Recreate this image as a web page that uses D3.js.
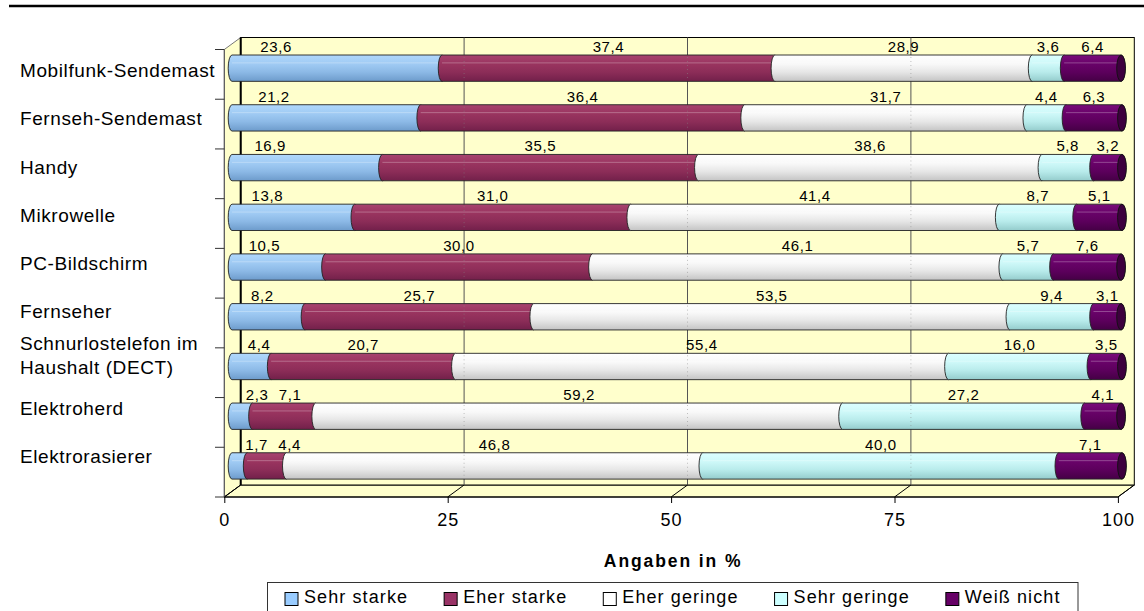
<!DOCTYPE html>
<html>
<head>
<meta charset="utf-8">
<script src="https://cdn.jsdelivr.net/npm/d3@7"></script>
<style>
  html, body { margin: 0; padding: 0; background: #fff; }
  svg { display: block; font-family: "Liberation Sans", Arial, sans-serif; }
</style>
</head>
<body>
<svg id="chart" width="1144" height="611"></svg>
<script>
// ---------- DATA ----------
const categories = [
  "Mobilfunk-Sendemast",
  "Fernseh-Sendemast",
  "Handy",
  "Mikrowelle",
  "PC-Bildschirm",
  "Fernseher",
  "Schnurlostelefon im Haushalt (DECT)",
  "Elektroherd",
  "Elektrorasierer"
];
const seriesNames = ["Sehr starke", "Eher starke", "Eher geringe", "Sehr geringe", "Weiß nicht"];
const sehrStarke  = [23.6, 21.2, 16.9, 13.8, 10.5,  8.2,  4.4,  2.3,  1.7];
const eherStarke  = [37.4, 36.4, 35.5, 31.0, 30.0, 25.7, 20.7,  7.1,  4.4];
const eherGeringe = [28.9, 31.7, 38.6, 41.4, 46.1, 53.5, 55.4, 59.2, 46.8];
const sehrGeringe = [ 3.6,  4.4,  5.8,  8.7,  5.7,  9.4, 16.0, 27.2, 40.0];
const weissNicht  = [ 6.4,  6.3,  3.2,  5.1,  7.6,  3.1,  3.5,  4.1,  7.1];
const xTicks = [0, 25, 50, 75, 100];
const xTitle = "Angaben in %";

// ---------- STYLE ----------
const seriesColors = ["#99CCFF", "#993366", "#FFFFFF", "#CCFFFF", "#660066"];
const gradStops = [
  ["#b0d8fc", "#9fcaf3", "#8cb9e6", "#6d9bcb"],
  ["#a8436f", "#99345f", "#8c2d58", "#72204a"],
  ["#ffffff", "#f8f8f8", "#e6e6e6", "#c4c4c4"],
  ["#dcffff", "#cdf8f8", "#b8ebeb", "#94cccc"],
  ["#7a0c7a", "#680268", "#5c005c", "#450045"]
];
const capColors = ["#6f9dcc", "#7a2550", "#bdbdbd", "#8fc6c6", "#3d003d"];

const svg = d3.select("#chart");
const defs = svg.append("defs");
gradStops.forEach((s, i) => {
  const g = defs.append("linearGradient").attr("id", "g" + i)
    .attr("x1", 0).attr("y1", 0).attr("x2", 0).attr("y2", 1);
  [[0, s[0]], [0.35, s[1]], [0.65, s[2]], [1, s[3]]].forEach(([o, c]) =>
    g.append("stop").attr("offset", o).attr("stop-color", c));
});

// ---------- GEOMETRY ----------
const depthX = 16.4, depthY = 12;
const frontX = d3.scaleLinear().domain([0, 100]).range([224.3, 1117.9]);
const backX = v => frontX(v) + depthX;
const frontTop = 49.5, frontBottom = 497;
const backTop = frontTop - depthY, backBottom = frontBottom - depthY;
const barX = d3.scaleLinear().domain([0, 100]).range([232, 1122]);
const tickBand = d3.scaleBand().domain(categories).range([frontTop, frontBottom]);
const barY = d3.scaleBand().domain(categories).range([55, 55 + 49.72 * 8.53]).paddingInner(0.47).paddingOuter(0);
const labelY = d3.scalePoint().domain(categories).range([77, 463]);

// top rule
svg.append("line").attr("x1", 9).attr("x2", 1144).attr("y1", 6).attr("y2", 6)
  .attr("stroke", "#000").attr("stroke-width", 2.5);

// walls
const wallFill = "#FFFFCC";
svg.append("polygon")
  .attr("points", [[frontX(0), frontTop], [backX(0), backTop], [backX(0), backBottom], [frontX(0), frontBottom]].join(" "))
  .attr("fill", wallFill).attr("stroke", "#777").attr("stroke-width", 1);
svg.append("polygon")
  .attr("points", [[frontX(0), frontBottom], [backX(0), backBottom], [backX(100), backBottom], [frontX(100), frontBottom]].join(" "))
  .attr("fill", wallFill).attr("stroke", "#000").attr("stroke-width", 1);
svg.append("rect").attr("x", backX(0)).attr("y", backTop)
  .attr("width", backX(100) - backX(0)).attr("height", backBottom - backTop)
  .attr("fill", wallFill).attr("stroke", "#000").attr("stroke-width", 1);

// gridlines on back wall and floor
xTicks.forEach(v => {
  if (v > 0 && v < 100) {
    svg.append("line").attr("x1", backX(v)).attr("x2", backX(v)).attr("y1", backTop).attr("y2", backBottom)
      .attr("stroke", "#555").attr("stroke-width", 1);
  }
  svg.append("line").attr("x1", frontX(v)).attr("y1", frontBottom).attr("x2", backX(v)).attr("y2", backBottom)
    .attr("stroke", "#000").attr("stroke-width", 1);
});
svg.append("line").attr("x1", backX(0)).attr("x2", backX(0)).attr("y1", backTop).attr("y2", backBottom)
  .attr("stroke", "#000").attr("stroke-width", 2);
// left front edge
svg.append("line").attr("x1", frontX(0)).attr("x2", frontX(0)).attr("y1", frontTop).attr("y2", frontBottom)
  .attr("stroke", "#555").attr("stroke-width", 1);

// category ticks
const bounds = categories.map(c => tickBand(c)).concat([frontBottom]);
bounds.forEach(y => {
  svg.append("line").attr("x1", 215).attr("x2", frontX(0)).attr("y1", y).attr("y2", y)
    .attr("stroke", "#333").attr("stroke-width", 1);
});

// x axis baseline & ticks
svg.append("line").attr("x1", frontX(0)).attr("x2", frontX(100)).attr("y1", frontBottom).attr("y2", frontBottom)
  .attr("stroke", "#000").attr("stroke-width", 1);
const xAxis = d3.axisBottom(frontX).tickValues(xTicks).tickSize(6).tickPadding(10).tickFormat(d3.format("d"));
const axG = svg.append("g").attr("transform", `translate(0,${frontBottom})`).call(xAxis);
axG.select(".domain").remove();
axG.selectAll(".tick line").attr("stroke", "#000");
axG.selectAll(".tick text").attr("font-size", 18).attr("letter-spacing", 1).attr("fill", "#000")
  .attr("font-family", "Liberation Sans, Arial, sans-serif").attr("dy", "0.72em");

// ---------- BARS ----------
const rows = categories.map((c, i) => ({
  cat: c,
  v: [sehrStarke[i], eherStarke[i], eherGeringe[i], sehrGeringe[i], weissNicht[i]]
}));
const stack = d3.stack().keys([0, 1, 2, 3, 4]).value((d, k) => d.v[k]);
const stacked = stack(rows);
const rx = 3.8;
const loc = d3.formatLocale({ decimal: ",", thousands: ".", grouping: [3], currency: ["", " €"] });
const fmt = loc.format(".1f");

const barsG = svg.append("g");
rows.forEach((row, i) => {
  const y0 = barY(row.cat), h = barY.bandwidth(), y1 = y0 + h, ry = h / 2;
  const g = barsG.append("g");
  stacked.forEach((layer, k) => {
    const a = barX(layer[i][0]), b = barX(layer[i][1]);
    g.append("path")
      .attr("d", `M${a},${y0}L${b},${y0}A${rx},${ry} 0 0 1 ${b},${y1}L${a},${y1}A${rx},${ry} 0 0 1 ${a},${y0}Z`)
      .attr("fill", `url(#g${k})`).attr("stroke", "#222").attr("stroke-width", 0.9);
    // highlight stripes
    g.append("line").attr("x1", a).attr("x2", b).attr("y1", y0 + h * 0.3).attr("y2", y0 + h * 0.3)
      .attr("stroke", "#fff").attr("stroke-opacity", 0.35).attr("stroke-width", 0.8);
  });
  // end cap
  const end = barX(stacked[4][i][1]);
  g.append("ellipse").attr("cx", end).attr("cy", y0 + ry).attr("rx", rx + 0.6).attr("ry", ry)
    .attr("fill", capColors[4]).attr("stroke", "#111").attr("stroke-width", 0.9);
  // faint gridlines seen through the bars
  [25, 50, 75].forEach(v => {
    g.append("line").attr("x1", backX(v)).attr("x2", backX(v)).attr("y1", y0 + 2).attr("y2", y1 - 2)
      .attr("stroke", "#888").attr("stroke-opacity", 0.5).attr("stroke-dasharray", "1,3");
  });
  // value labels
  let prevX = -Infinity;
  stacked.forEach((layer, k) => {
    const s = layer[i][0], e = layer[i][1], val = row.v[k];
    let cx = k === 0 ? barX(2.6 + 0.1 * val) : barX((s + e) / 2);
    cx = Math.max(cx, prevX + 33);
    prevX = cx;
    svg.append("text").attr("x", cx).attr("y", y0 - 3)
      .attr("text-anchor", "middle").attr("font-size", 15).attr("letter-spacing", 0.6)
      .attr("fill", "#000").text(fmt(val));
  });
});

// ---------- CATEGORY LABELS ----------
categories.forEach(c => {
  const lines = c === "Schnurlostelefon im Haushalt (DECT)" ? ["Schnurlostelefon im", "Haushalt (DECT)"] : [c];
  const base = labelY(c);
  const t = svg.append("text").attr("font-size", 19).attr("letter-spacing", 0.6).attr("fill", "#000");
  lines.forEach((ln, j) => {
    const yy = lines.length === 1 ? base : base - 16.5 + j * 24.3;
    t.append("tspan").attr("x", 20).attr("y", yy).text(ln);
  });
});

// ---------- AXIS TITLE ----------
svg.append("text").attr("x", (frontX(0) + frontX(100)) / 2 + 2).attr("y", 566.7)
  .attr("text-anchor", "middle").attr("font-size", 17.5).attr("font-weight", "bold")
  .attr("letter-spacing", 1.9).attr("fill", "#000").text(xTitle);

// ---------- LEGEND ----------
const legG = svg.append("g");
const legBox = legG.append("rect").attr("x", 267.5).attr("y", 582.5).attr("width", 810.5).attr("height", 30)
  .attr("fill", "#fff").attr("stroke", "#333").attr("stroke-width", 1);
let lx = 285;
const legendSwatchX = [];
seriesNames.forEach((name, k) => {
  legG.append("rect").attr("x", lx).attr("y", 592.5).attr("width", 13).attr("height", 13)
    .attr("fill", seriesColors[k]).attr("stroke", "#000").attr("stroke-width", 1);
  const t = legG.append("text").attr("x", lx + 19).attr("y", 603.3).attr("font-size", 18)
    .attr("letter-spacing", 1.1).attr("fill", "#000").text(name);
  const w = t.node().getComputedTextLength();
  lx = lx + 19 + w + 36;
});
</script>
</body>
</html>
